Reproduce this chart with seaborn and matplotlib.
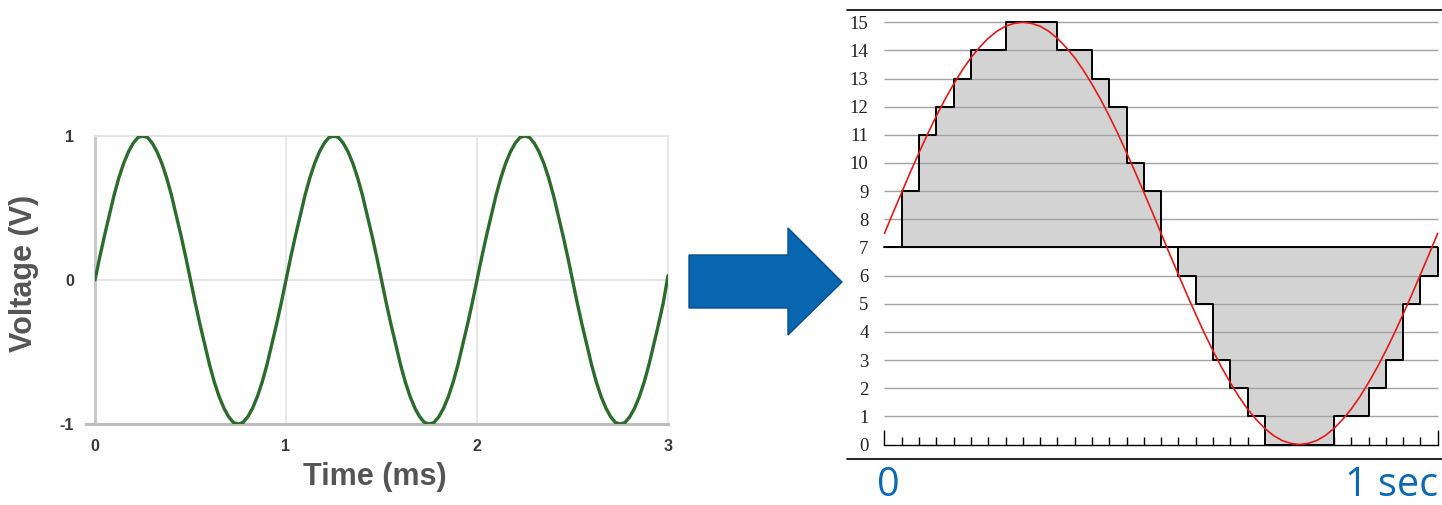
import numpy as np
import pandas as pd
import matplotlib
matplotlib.use("Agg")
import matplotlib.pyplot as plt
import seaborn as sns
from matplotlib.lines import Line2D
from matplotlib.patches import Polygon

# ---------------- data: left chart (analog signal, 3 periods) ----------------
analog_time_ms = [round(i * 0.025, 3) for i in range(121)]
analog_voltage = [
    0.00, 0.16, 0.31, 0.45, 0.59, 0.71, 0.81, 0.89, 0.95, 0.99, 1.00,
    0.99, 0.95, 0.89, 0.81, 0.71, 0.59, 0.45, 0.31, 0.16, 0.00,
    -0.16, -0.31, -0.45, -0.59, -0.71, -0.81, -0.89, -0.95, -0.99, -1.00,
    -0.99, -0.95, -0.89, -0.81, -0.71, -0.59, -0.45, -0.31, -0.16,
    0.00, 0.16, 0.31, 0.45, 0.59, 0.71, 0.81, 0.89, 0.95, 0.99, 1.00,
    0.99, 0.95, 0.89, 0.81, 0.71, 0.59, 0.45, 0.31, 0.16, 0.00,
    -0.16, -0.31, -0.45, -0.59, -0.71, -0.81, -0.89, -0.95, -0.99, -1.00,
    -0.99, -0.95, -0.89, -0.81, -0.71, -0.59, -0.45, -0.31, -0.16,
    0.00, 0.16, 0.31, 0.45, 0.59, 0.71, 0.81, 0.89, 0.95, 0.99, 1.00,
    0.99, 0.95, 0.89, 0.81, 0.71, 0.59, 0.45, 0.31, 0.16, 0.00,
    -0.16, -0.31, -0.45, -0.59, -0.71, -0.81, -0.89, -0.95, -0.99, -1.00,
    -0.99, -0.95, -0.89, -0.81, -0.71, -0.59, -0.45, -0.31, -0.16,
    0.03]
left_xticks = [0, 1, 2, 3]
left_yticks = [-1, 0, 1]

# ---------------- data: right chart (4-bit sampled signal) ----------------
levels = list(range(16))
sample_codes = [7, 9, 11, 12, 13, 14, 14, 15, 15, 15, 14, 14, 13, 12, 10, 9,
                7, 6, 5, 3, 2, 1, 0, 0, 0, 0, 1, 1, 2, 3, 5, 6]
n_samples = 32
ref_time_s = [i / 64 for i in range(65)]
ref_level = [7.50, 8.24, 8.96, 9.68, 10.37, 11.04, 11.67, 12.26, 12.80, 13.30,
             13.74, 14.11, 14.43, 14.68, 14.86, 14.96, 15.00,
             14.96, 14.86, 14.68, 14.43, 14.11, 13.74, 13.30, 12.80, 12.26,
             11.67, 11.04, 10.37, 9.68, 8.96, 8.24, 7.50,
             6.76, 6.04, 5.32, 4.63, 3.96, 3.33, 2.74, 2.20, 1.70,
             1.26, 0.89, 0.57, 0.32, 0.14, 0.04, 0.00,
             0.04, 0.14, 0.32, 0.57, 0.89, 1.26, 1.70, 2.20, 2.74,
             3.33, 3.96, 4.63, 5.32, 6.04, 6.76, 7.50]
midline_level = 7

# ---------------- style ----------------
sns.set_theme(style="white")
plt.rcParams["font.family"] = ["Liberation Sans", "DejaVu Sans"]

W, H = 1442, 505
fig = plt.figure(figsize=(W / 100, H / 100), dpi=100)


def fx(px):
    return px / W


def fy(py):
    return 1 - py / H


# ================= left chart =================
axL = fig.add_axes([fx(95), fy(424), (668 - 95) / W, (424 - 136) / H])
df_an = pd.DataFrame({"t": analog_time_ms, "v": analog_voltage})
sns.lineplot(data=df_an, x="t", y="v", ax=axL, color="#2b6b2b", lw=2.4,
             solid_joinstyle="round", solid_capstyle="round", zorder=5)
axL.set_xlim(0, 3)
axL.set_ylim(-1, 1)
axL.set_xticks(left_xticks)
axL.set_yticks(left_yticks)
axL.set_xticklabels([str(v) for v in left_xticks])
axL.set_yticklabels([str(v) for v in left_yticks])
axL.tick_params(axis="both", length=0, labelsize=11.5, labelcolor="#3a3a3a")
axL.tick_params(axis="x", pad=11)
axL.tick_params(axis="y", pad=15)
for lab in axL.get_xticklabels() + axL.get_yticklabels():
    lab.set_fontweight("bold")
axL.grid(True, color="#e4e4e4", lw=1.2)
axL.spines["left"].set_color("#c9c9c9")
axL.spines["left"].set_linewidth(2.2)
axL.spines["bottom"].set_color("#bdbdbd")
axL.spines["bottom"].set_linewidth(2.2)
axL.spines["bottom"].set_bounds(-0.045, 3)
for s in ("top", "right"):
    axL.spines[s].set_color("#e4e4e4")
    axL.spines[s].set_linewidth(1.2)
axL.set_xlabel("Time (ms)", fontsize=22, fontweight="bold", color="#555555", va="center")
axL.xaxis.set_label_coords((375 - 95) / 573, -(477 - 424) / 288)
axL.set_ylabel("Voltage (V)", fontsize=22, fontweight="bold", color="#555555", va="center")
axL.yaxis.set_label_coords((24 - 95) / 573, (424 - 273) / 288)

# ================= arrow =================
arrow_pts = [(689, 255), (788, 255), (788, 228), (842, 282), (788, 335), (788, 308), (689, 308)]
fig.patches.append(Polygon([(fx(x), fy(y)) for x, y in arrow_pts], closed=True,
                           transform=fig.transFigure, facecolor="#0866b1",
                           edgecolor="#0b4e8a", lw=1.0))

# ================= right chart =================
axR = fig.add_axes([fx(870), fy(459), (1442 - 870) / W, (459 - 10) / H])
axR.set_facecolor("none")
edges = [i / n_samples for i in range(n_samples + 1)]
codes_ext = sample_codes + [sample_codes[-1]]

axR.fill_between(edges, codes_ext, midline_level, step="post", color="#d3d3d3", lw=0, zorder=1)
axR.hlines(levels[1:], 0, 1, color="#a3a3a3", lw=1.0, zorder=2)
axR.hlines(midline_level, 0, 1, color="black", lw=1.4, zorder=3)
axR.step(edges, codes_ext, where="post", color="black", lw=1.4, zorder=3)
axR.vlines(1, sample_codes[-1], midline_level, color="black", lw=1.4, zorder=3)
df_ref = pd.DataFrame({"t": ref_time_s, "v": ref_level})
sns.lineplot(data=df_ref, x="t", y="v", ax=axR, color="#e31a1a", lw=1.2, zorder=4)

axR.set_xlim((870 - 884.5) / 553.2, (1442 - 884.5) / 553.2)
axR.set_ylim(-0.515, 15.435)
axR.set_yticks(levels)
axR.set_yticklabels([str(v) for v in levels], family=["Liberation Serif", "DejaVu Serif"],
                    fontsize=13.5, color="#222222")
axR.tick_params(axis="y", length=0, pad=1)
for s in ("top", "right", "left"):
    axR.spines[s].set_visible(False)
axR.spines["bottom"].set_position(("data", 0))
axR.spines["bottom"].set_bounds(0, 1)
axR.spines["bottom"].set_color("black")
axR.spines["bottom"].set_linewidth(1.0)
axR.set_xticks([0, 1])
axR.set_xticks(edges[1:-1], minor=True)
axR.set_xticklabels([])
axR.tick_params(axis="x", which="major", direction="in", length=10.8, width=1.0,
                color="black", bottom=True)
axR.tick_params(axis="x", which="minor", direction="in", length=5.8, width=1.0,
                color="black", bottom=True)
axR.set_xlabel("")
axR.set_ylabel("")

# frame lines above and below the sampled chart
fig.add_artist(Line2D([fx(847), 1], [fy(9.5), fy(9.5)], transform=fig.transFigure,
                      color="black", lw=1.2))
fig.add_artist(Line2D([fx(847), 1], [fy(459), fy(459)], transform=fig.transFigure,
                      color="black", lw=1.2))

fig.text(fx(888), fy(495.5), "0", ha="center", va="baseline", fontsize=28.5,
         color="#0b69b3", family=["Open Sans", "DejaVu Sans"])
fig.text(fx(1438), fy(495.5), "1 sec", ha="right", va="baseline", fontsize=28.5,
         color="#0b69b3", family=["Open Sans", "DejaVu Sans"])

fig.savefig("out.png", dpi=100)
